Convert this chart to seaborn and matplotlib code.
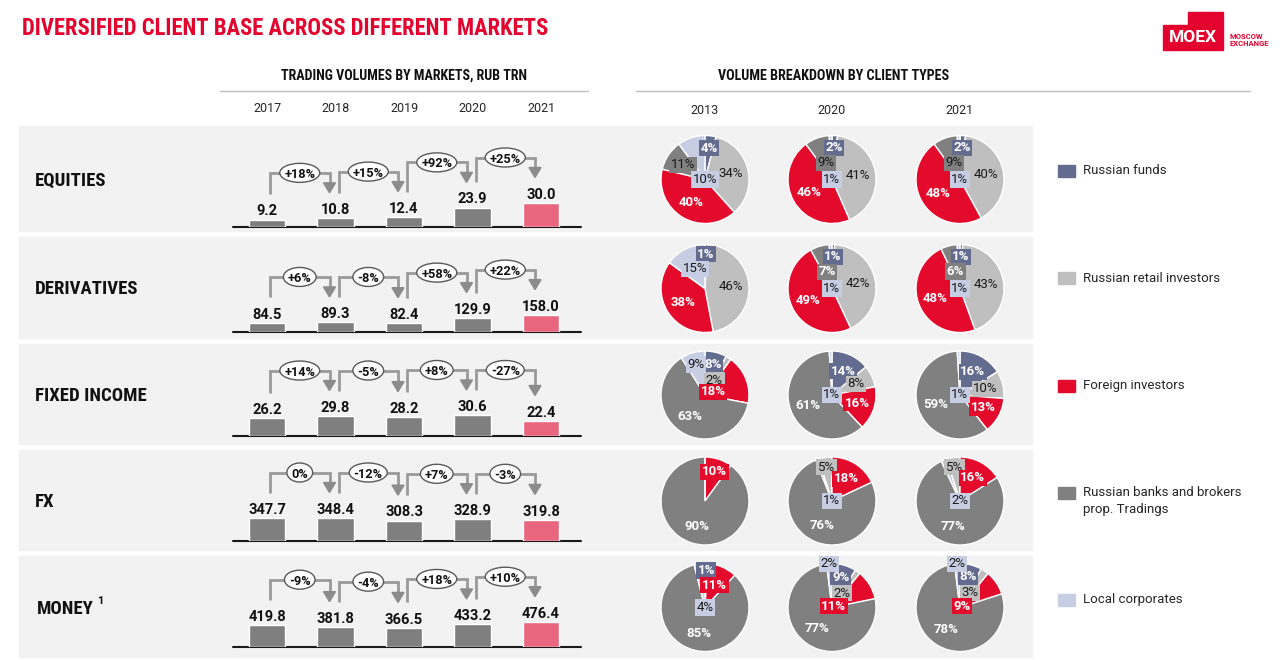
import numpy as np
import pandas as pd
import matplotlib
matplotlib.use('Agg')
import matplotlib.pyplot as plt
import seaborn as sns
from matplotlib import font_manager as fm
from matplotlib.patches import Rectangle, Ellipse, Polygon

# ---- data ----
markets = ['EQUITIES', 'DERIVATIVES', 'FIXED INCOME', 'FX', 'MONEY']
bar_years = ['2017', '2018', '2019', '2020', '2021']
equities = [9.2, 10.8, 12.4, 23.9, 30.0]
derivatives = [84.5, 89.3, 82.4, 129.9, 158.0]
fixed_income = [26.2, 29.8, 28.2, 30.6, 22.4]
fx = [347.7, 348.4, 308.3, 328.9, 319.8]
money = [419.8, 381.8, 366.5, 433.2, 476.4]

eq_growth = ['+18%', '+15%', '+92%', '+25%']
der_growth = ['+6%', '-8%', '+58%', '+22%']
fi_growth = ['+14%', '-5%', '+8%', '-27%']
fx_growth = ['0%', '-12%', '+7%', '-3%']
money_growth = ['-9%', '-4%', '+18%', '+10%']

pie_years = ['2013', '2020', '2021']
client_types = ['Russian funds', 'Russian retail investors', 'Foreign investors',
                'Russian banks and brokers\nprop. Tradings', 'Local corporates']
# shares, %: funds, retail, foreign, banks, corporates
eq_shares = [[4, 34, 40, 11, 10], [2, 41, 46, 9, 1], [2, 40, 48, 9, 1]]
der_shares = [[1, 46, 38, 0, 15], [1, 42, 49, 7, 1], [1, 43, 48, 6, 1]]
fi_shares = [[8, 2, 18, 63, 9], [14, 8, 16, 61, 1], [16, 10, 13, 59, 1]]
fx_shares = [[0, 0, 10, 90, 0], [0, 5, 18, 76, 1], [0, 5, 16, 77, 2]]
money_shares = [[1, 0, 11, 85, 4], [9, 2, 11, 77, 2], [8, 3, 9, 78, 2]]

volumes = [equities, derivatives, fixed_income, fx, money]
growths = [eq_growth, der_growth, fi_growth, fx_growth, money_growth]
shares = [eq_shares, der_shares, fi_shares, fx_shares, money_shares]

# ---- style ----
sns.set_style('white')
plt.rcParams['font.family'] = ['Roboto', 'DejaVu Sans']

names = {f.name for f in fm.fontManager.ttflist}
COND = next((n for n in ['Roboto Condensed', 'Liberation Sans Narrow',
                         'Open Sans Condensed'] if n in names), 'Roboto')

RED = '#E4032E'
PINK = '#E8667E'
BAR_GRAY = '#7F7F7F'
PANEL = '#F2F2F2'
pie_colors = ['#636B8F', '#BFBFBF', '#E30A2C', '#808080', '#C7CEE3']
pie_text = ['white', '#1A1A1A', 'white', 'white', '#1A1A1A']

W, H = 1280, 660
fig = plt.figure(figsize=(12.8, 6.6), dpi=100)
renderer = fig.canvas.get_renderer()
bg = fig.add_axes([0, 0, 1, 1])
bg.set_xlim(0, W)
bg.set_ylim(H, 0)
bg.axis('off')


def fit_text(x, y, s, size, max_width, **kw):
    t = bg.text(x, y, s, fontsize=size, **kw)
    w = t.get_window_extent(renderer).width
    if w > max_width:
        t.set_fontsize(size * max_width / w)
    return t


# title and logo
fit_text(22, 35, 'DIVERSIFIED CLIENT BASE ACROSS DIFFERENT MARKETS', 23, 530,
         color=RED, fontweight='bold', family=COND, va='baseline')
bg.add_patch(Polygon([(1163, 25), (1188, 25), (1188, 12), (1223, 12),
                      (1223, 50), (1163, 50)], color=RED))
bg.text(1193, 38, 'MOEX', color='white', fontsize=12.5, fontweight='bold',
        ha='center', va='center')
bg.text(1229, 40, 'MOSCOW\nEXCHANGE', color=RED, fontsize=5.5, fontweight='bold',
        ha='left', va='center', linespacing=1.0)

# section headers
fit_text(404, 80, 'TRADING VOLUMES BY MARKETS, RUB TRN', 12, 248,
         fontweight='bold', family=COND, ha='center', va='baseline', color='#111')
fit_text(834, 80, 'VOLUME BREAKDOWN BY CLIENT TYPES', 12, 232,
         fontweight='bold', family=COND, ha='center', va='baseline', color='#111')
bg.plot([220, 588], [91, 91], color='#BFBFBF', lw=1)
bg.plot([636, 1250], [91, 91], color='#BFBFBF', lw=1)

# layout
row_top = [126, 237, 344, 450, 556]
row_bot = [231, 338, 444, 550, 657]
baseline = [227, 332, 436, 541, 647]
px_per_unit = [0.8, 0.107, 0.67, 0.066, 0.052]
bar_left, bar_w = 232.75, 342.5
pie_x = [705, 832, 960]
pie_r = 44
pie_start = {(3, 1): 108, (3, 2): 108}
label_r_override = {(0, 0, 4): 0.0, (1, 0, 4): 0.5, (1, 0, 0): 0.78,
                    (2, 0, 2): 0.2, (3, 1, 1): 0.78, (3, 2, 1): 0.78,
                    (4, 0, 0): 0.84, (4, 0, 2): 0.55,
                    (4, 1, 4): 1.0, (4, 2, 4): 1.0, (4, 1, 2): 0.05, (4, 2, 2): 0.05}

bar_x = [267, 336, 405, 473, 541]
for yr, x in zip(bar_years, bar_x):
    bg.text(x, 108, yr, ha='center', va='center', fontsize=9, color='#262626')
for yr, x in zip(pie_years, pie_x):
    bg.text(x, 110, yr, ha='center', va='center', fontsize=9, color='#262626')


def label_radius(r, j, k, p):
    if (r, j, k) in label_r_override:
        return label_r_override[(r, j, k)]
    if p >= 11:
        return 0.6
    if k == 0:
        return 0.72
    if k == 1:
        return 0.6 if p >= 8 else 0.4
    if k == 2:
        return 0.7
    if k == 4:
        return 0.72 if p >= 5 else 0.0
    return 0.4


for r, market in enumerate(markets):
    top, bot = row_top[r], row_bot[r]
    mid = (top + bot) / 2
    bg.add_patch(Rectangle((19, top), 1013, bot - top, color=PANEL, zorder=0))

    # row label
    if market == 'MONEY':
        t = fit_text(37, mid + 7, market, 13.5, 120, fontweight='bold', family=COND,
                     va='baseline', color='#111')
        x_end = bg.transData.inverted().transform(
            (t.get_window_extent(renderer).x1, 0))[0]
        bg.text(x_end + 3, mid - 3, '1', fontsize=8, fontweight='bold',
                va='baseline', color='#111')
    else:
        fit_text(35, mid + 7, market, 13.5, 120, fontweight='bold', family=COND,
                 va='baseline', color='#111')

    # bars
    vals = volumes[r]
    ax_h = 70
    ax = fig.add_axes([bar_left / W, (H - baseline[r]) / H, bar_w / W, ax_h / H])
    df = pd.DataFrame({'year': bar_years, 'value': vals})
    sns.barplot(data=df, x='year', y='value', hue='year',
                palette=[BAR_GRAY] * 4 + [PINK], legend=False, width=0.54,
                saturation=1, ax=ax)
    ax.set_xlim(-0.5, 4.5)
    ax.set_ylim(0, ax_h / px_per_unit[r])
    ax.patch.set_alpha(0)
    ax.axis('off')
    for i, v in enumerate(vals):
        ax.annotate(f'{v:.1f}', (i, v), xytext=(0, 1), textcoords='offset points',
                    ha='center', va='bottom', fontsize=10.5, fontweight='bold',
                    color='#111', annotation_clip=False)
    bg.plot([233, 581], [baseline[r], baseline[r]], color='#1A1A1A', lw=1.5)

    # growth brackets
    tops = []
    for i, v in enumerate(vals):
        dx, dy = ax.transData.transform((i, v))
        tops.append((dx, H - dy))
    label_top = [t[1] - 14.5 for t in tops]
    for i in range(4):
        x1 = tops[i][0] + 3
        x2 = tops[i + 1][0] - 6
        y1 = label_top[i] - 11
        y2 = label_top[i + 1] - 11
        lev = min(label_top[i], label_top[i + 1]) - 31
        bg.plot([x1, x1, x2, x2], [y1, lev, lev, y2 - 9], color='#9A9A9A', lw=2,
                solid_joinstyle='miter', solid_capstyle='butt')
        bg.add_patch(Polygon([(x2 - 6, y2 - 10), (x2 + 6, y2 - 10), (x2, y2)],
                             color='#8C8C8C', zorder=3))
        t = bg.text((x1 + x2) / 2, lev, growths[r][i], ha='center',
                    va='center_baseline', fontsize=9.2, fontweight='bold',
                    color='#111', zorder=5)
        tw = t.get_window_extent(renderer).width
        bg.add_patch(Ellipse(((x1 + x2) / 2, lev), tw + 9, 19, fc='white',
                             ec='#595959', lw=1, zorder=4))

    # pies
    cy = mid + 1
    for j in range(3):
        cx = pie_x[j]
        pax = fig.add_axes([(cx - pie_r) / W, (H - cy - pie_r) / H,
                            2 * pie_r / W, 2 * pie_r / H])
        sh = shares[r][j]
        wedges, _ = pax.pie(sh, colors=pie_colors, startangle=pie_start.get((r, j), 90),
                            counterclock=False, radius=1)
        pax.set_xlim(-1, 1)
        pax.set_ylim(-1, 1)
        pax.axis('off')
        for k, (w, p) in enumerate(zip(wedges, sh)):
            if p == 0:
                continue
            ang = np.deg2rad((w.theta1 + w.theta2) / 2)
            rr = label_radius(r, j, k, p)
            col = pie_text[k]
            if k == 3 and p < 12 and r == 0:
                col = '#1A1A1A'
            pax.text(rr * np.cos(ang), rr * np.sin(ang), f'{p}%', ha='center',
                     va='center', fontsize=9.5, color=col,
                     fontweight='bold' if col == 'white' else 'normal',
                     bbox=dict(boxstyle='square,pad=0.12', fc=pie_colors[k], ec='none'))

# legend
leg_y = [171, 278, 386, 493, 600]
for k, (name, y) in enumerate(zip(client_types, leg_y)):
    bg.add_patch(Rectangle((1058, y - 6), 17, 12, color=pie_colors[k]))
    if '\n' in name:
        bg.text(1083, y - 7, name, ha='left', va='top', fontsize=9.5,
                color='#262626', linespacing=1.35)
    else:
        bg.text(1083, y, name, ha='left', va='center', fontsize=9.5, color='#262626')

plt.savefig('out.png', dpi=100)
